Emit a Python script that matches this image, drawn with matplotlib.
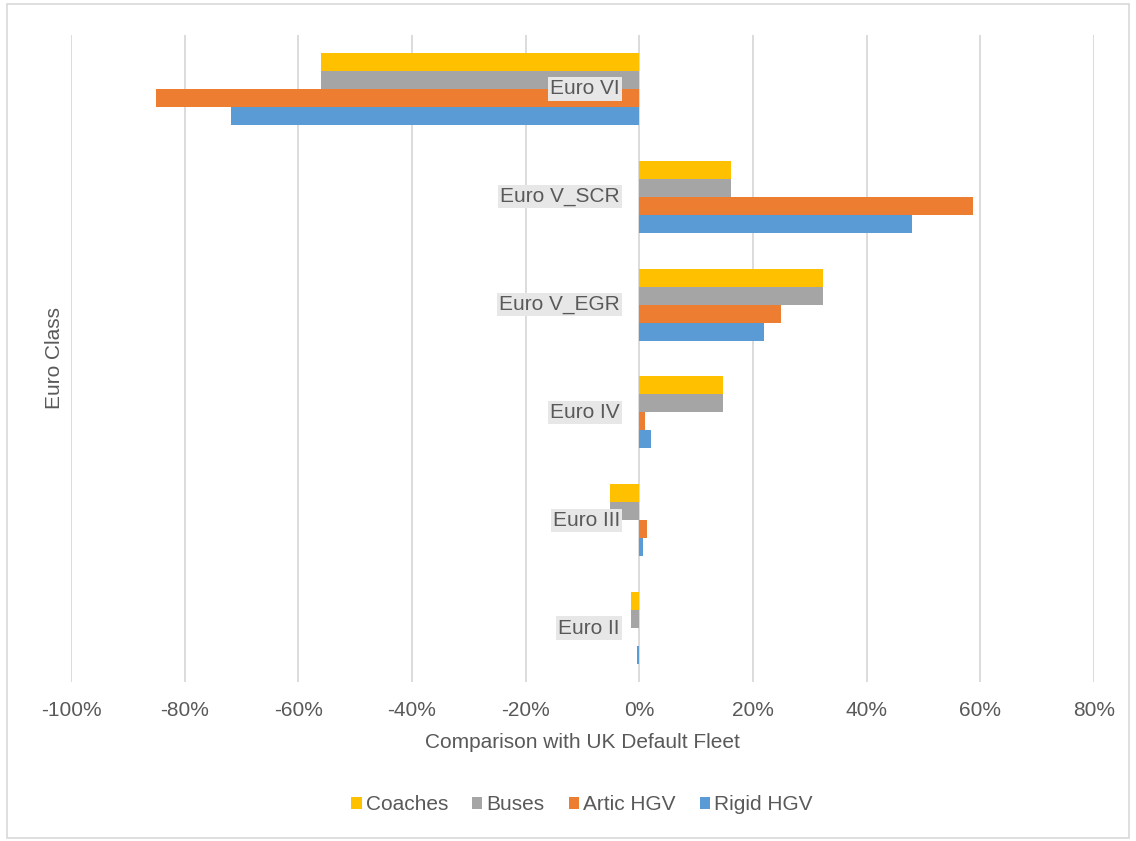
import matplotlib
matplotlib.use("Agg")
import matplotlib.pyplot as plt
from matplotlib.patches import Rectangle
import numpy as np

plt.rcParams['font.family'] = ['Liberation Sans', 'DejaVu Sans']

categories = ["Euro II", "Euro III", "Euro IV", "Euro V_EGR", "Euro V_SCR", "Euro VI"]
series_names = ["Coaches", "Buses", "Artic HGV", "Rigid HGV"]
coaches = [-1.4, -5.1, 14.8, 32.4, 16.2, -56.0]
buses = [-1.4, -5.1, 14.8, 32.4, 16.2, -56.0]
artic = [0.0, 1.3, 1.0, 25.0, 58.7, -85.0]
rigid = [-0.4, 0.6, 2.0, 22.0, 48.0, -71.8]
xticks = [-100, -80, -60, -40, -20, 0, 20, 40, 60, 80]
colors = ["#FFC000", "#A5A5A5", "#ED7D31", "#5B9BD5"]
text_color = "#595959"
fs = 15

fig = plt.figure(figsize=(11.36, 8.41), dpi=100)
ax = fig.add_axes([71/1136, 1-682/841, (1094-71)/1136, (682-35)/841])

y = np.arange(len(categories))
h = 0.167
offsets = [1.5, 0.5, -0.5, -1.5]
for vals, off, col, name in zip([coaches, buses, artic, rigid], offsets, colors, series_names):
    ax.barh(y + off*h, vals, height=h, color=col, label=name, zorder=3)

ax.set_xlim(-100, 80)
ax.set_ylim(-0.5, len(categories)-0.5)
ax.set_xticks(xticks)
ax.set_xticklabels([f"{t}%" for t in xticks], color=text_color, fontsize=fs)
ax.tick_params(axis='x', length=0, pad=14)
ax.set_yticks([])
ax.grid(axis='x', color='#D9D9D9', linewidth=1.3, zorder=0)
for s in ax.spines.values():
    s.set_visible(False)

for yi, cat in zip(y, categories):
    ax.annotate(cat, xy=(0, yi), xytext=(-14, 0), textcoords='offset points',
                ha='right', va='center', fontsize=fs, color=text_color, zorder=5,
                bbox=dict(boxstyle='square,pad=0.1', facecolor='#E7E7E7', edgecolor='none'))

fig.text(582/1136, 1-743/841, "Comparison with UK Default Fleet", ha='center', va='center',
         fontsize=fs, color=text_color)
fig.text(55/1136, 1-358/841, "Euro Class", ha='center', va='center', rotation=90,
         fontsize=fs, color=text_color)

leg = fig.legend(loc='center', bbox_to_anchor=(582/1136, 1-805/841), ncol=4, frameon=False,
                 fontsize=fs, handlelength=0.5, handleheight=0.5, handletextpad=0.2,
                 columnspacing=1.15, labelcolor=text_color)

fig.patches.append(Rectangle((7/1136, 3/841), 1122/1136, 834/841, transform=fig.transFigure,
                             fill=False, edgecolor='#D9D9D9', linewidth=1.2))

fig.savefig("out.png", dpi=100, facecolor='white')
